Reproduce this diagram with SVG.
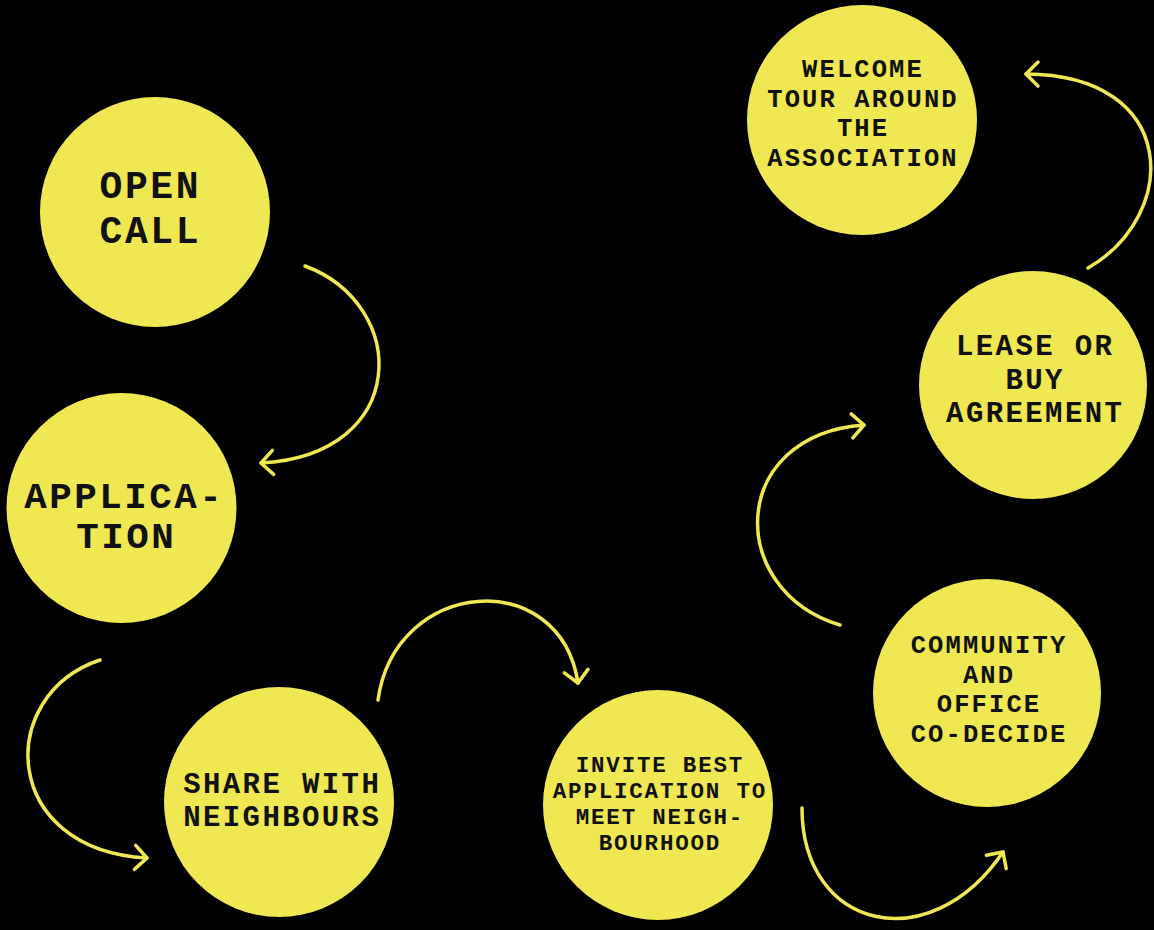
<svg xmlns="http://www.w3.org/2000/svg" width="1154" height="930" viewBox="0 0 1154 930">
<defs>
<style>
.node circle{fill:#EFE852}
.node text{font-family:"Liberation Mono","Courier New",monospace;font-weight:bold;fill:#111;text-anchor:middle}
.conn path{fill:none;stroke:#EFE852;stroke-width:3.5;stroke-linecap:round}
</style>
<marker id="ah" markerUnits="userSpaceOnUse" markerWidth="40" markerHeight="40" viewBox="-20 -20 40 40" refX="0" refY="0" orient="auto">
<path d="M-12,-12 L0,0 L-12,12" fill="none" stroke="#EFE852" stroke-width="3.5" stroke-linecap="round" stroke-linejoin="round"/>
</marker>
</defs>
<rect width="1154" height="930" fill="#000"/>
<g class="conn" id="connectors">
<path d="M305,266 C410,305 410,455 261,463" marker-end="url(#ah)"/>
<path d="M100,660 C-5,695 0,850 147,858" marker-end="url(#ah)"/>
<path d="M378,700 C395,578 560,565 578,683" marker-end="url(#ah)"/>
<path d="M802,808 C802,930 930,960 1003,852" marker-end="url(#ah)"/>
<path d="M840,625 C725,590 728,435 864,425" marker-end="url(#ah)"/>
<path d="M1088,268 C1180,215 1180,75 1026,74" marker-end="url(#ah)"/>
</g>
<g class="node" id="open-call">
<circle cx="155" cy="212" r="115"/>
<text font-size="38" letter-spacing="2.6"><tspan x="150.3" y="198">OPEN</tspan><tspan x="150.3" y="243">CALL</tspan></text>
</g>
<g class="node" id="application">
<circle cx="121.5" cy="508" r="115"/>
<text font-size="37.5" letter-spacing="2.5"><tspan x="124.2" y="507.5">APPLICA-</tspan><tspan x="126.2" y="548">TION</tspan></text>
</g>
<g class="node" id="share">
<circle cx="279" cy="802" r="115"/>
<text font-size="29" letter-spacing="2.4"><tspan x="282.2" y="793">SHARE WITH</tspan><tspan x="282.2" y="826">NEIGHBOURS</tspan></text>
</g>
<g class="node" id="invite">
<circle cx="658" cy="805" r="115"/>
<text font-size="22.5" letter-spacing="1.8"><tspan x="659.9" y="772">INVITE BEST</tspan><tspan x="659.9" y="798">APPLICATION TO</tspan><tspan x="659.9" y="824">MEET NEIGH-</tspan><tspan x="659.9" y="850">BOURHOOD</tspan></text>
</g>
<g class="node" id="community">
<circle cx="987" cy="693" r="114"/>
<text font-size="25.5" letter-spacing="2.1"><tspan x="989" y="653">COMMUNITY</tspan><tspan x="989" y="682.5">AND</tspan><tspan x="989" y="712">OFFICE</tspan><tspan x="989" y="741.5">CO-DECIDE</tspan></text>
</g>
<g class="node" id="lease">
<circle cx="1033" cy="385" r="114"/>
<text font-size="29" letter-spacing="2.4"><tspan x="1035.2" y="355">LEASE OR</tspan><tspan x="1035.2" y="388.5">BUY</tspan><tspan x="1035.2" y="422">AGREEMENT</tspan></text>
</g>
<g class="node" id="welcome">
<circle cx="862" cy="120" r="115"/>
<text font-size="25.5" letter-spacing="2.1"><tspan x="863" y="77">WELCOME</tspan><tspan x="863" y="106.5">TOUR AROUND</tspan><tspan x="863" y="136">THE</tspan><tspan x="863" y="165.5">ASSOCIATION</tspan></text>
</g>
</svg>
